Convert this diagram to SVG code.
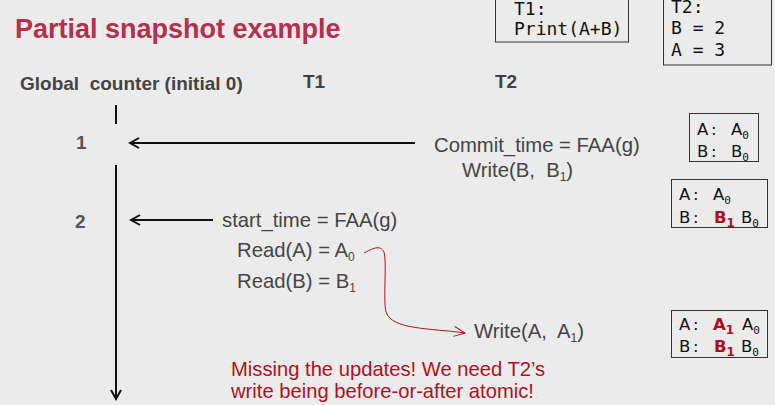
<svg xmlns="http://www.w3.org/2000/svg" width="775" height="405" viewBox="0 0 775 405">
  <style>
    .title { font-family: "Liberation Sans", Arial, sans-serif; font-weight: bold; font-size: 27px; fill: #b4304c; }
    .head { font-family: "Liberation Sans", Arial, sans-serif; font-weight: bold; font-size: 19px; fill: #444; }
    .tick { font-family: "Liberation Sans", Arial, sans-serif; font-weight: bold; font-size: 19px; fill: #555; }
    .op { font-family: "Liberation Sans", Arial, sans-serif; font-size: 20.3px; fill: #444; }
    .warn { font-family: "Liberation Sans", Arial, sans-serif; font-size: 20.2px; fill: #b0101e; }
    .code { font-family: "DejaVu Sans Mono", "Liberation Mono", monospace; font-size: 18px; fill: #111; }
    .ver { font-family: "DejaVu Sans", "Liberation Sans", sans-serif; font-size: 16.5px; fill: #111; }
    .new { fill: #b0101e; font-weight: bold; }
    .sub { font-size: 12px; }
    .vsub { font-family: "DejaVu Sans Mono", monospace; font-size: 11px; }
    .box { fill: none; stroke: #333; stroke-width: 1; }
    .line { stroke: #111; stroke-width: 2; fill: none; }
    .curve { stroke: #b0101e; stroke-width: 1; fill: none; }
  </style>
  <defs>
    <marker id="open" markerWidth="12" markerHeight="12" refX="10" refY="6" orient="auto" markerUnits="userSpaceOnUse">
      <path d="M1,1 L10,6 L1,11" fill="none" stroke="#111" stroke-width="2"/>
    </marker>
    <marker id="openRed" markerWidth="14" markerHeight="12" refX="12" refY="6" orient="auto" markerUnits="userSpaceOnUse">
      <path d="M1,1 L12,6 L1,11" fill="none" stroke="#b0101e" stroke-width="1"/>
    </marker>
  </defs>

  <rect width="775" height="405" fill="#ebebeb"/>

  <text class="title" x="15" y="38">Partial snapshot example</text>

  <g id="header">
    <text class="head" x="20" y="90" xml:space="preserve">Global  counter (initial 0)</text>
    <text class="head" x="303" y="88">T1</text>
    <text class="head" x="495" y="88">T2</text>
  </g>

  <g id="t1-box">
    <rect class="box" x="495.5" y="-2" width="133" height="44"/>
    <text class="code" x="514" y="15">T1:</text>
    <text class="code" x="514" y="35">Print(A+B)</text>
  </g>

  <g id="t2-box">
    <rect class="box" x="663.5" y="-2" width="108" height="67"/>
    <text class="code" x="671" y="13">T2:</text>
    <text class="code" x="671" y="34" xml:space="preserve">B = 2</text>
    <text class="code" x="671" y="56" xml:space="preserve">A = 3</text>
  </g>

  <g id="timeline">
    <line class="line" x1="116" y1="105" x2="116" y2="124"/>
    <line class="line" x1="116" y1="165" x2="116" y2="399" marker-end="url(#open)"/>
    <text class="tick" x="76" y="149">1</text>
    <text class="tick" x="75" y="228">2</text>
  </g>

  <g id="connectors">
    <line class="line" x1="415" y1="143" x2="130" y2="143" marker-end="url(#open)"/>
    <line class="line" x1="213" y1="220" x2="131" y2="220" marker-end="url(#open)"/>
    <path class="curve" d="M364,253 C372,249 380,244 384,252 C387,262 383,300 386,312 C392,330 430,328 465,333" marker-end="url(#openRed)"/>
  </g>

  <g id="t2-ops">
    <text class="op" x="434" y="152">Commit_time = FAA(g)</text>
    <text class="op" x="462" y="177" xml:space="preserve">Write(B,  B<tspan class="sub" dy="4">1</tspan><tspan dy="-4">)</tspan></text>
    <text class="op" x="474" y="338" xml:space="preserve">Write(A,  A<tspan class="sub" dy="4">1</tspan><tspan dy="-4">)</tspan></text>
  </g>

  <g id="t1-ops">
    <text class="op" x="222" y="227">start_time = FAA(g)</text>
    <text class="op" x="237" y="257">Read(A) = A<tspan class="sub" dy="4">0</tspan></text>
    <text class="op" x="237" y="288">Read(B) = B<tspan class="sub" dy="4">1</tspan></text>
  </g>

  <g id="note">
    <text class="warn" x="231" y="376">Missing the updates! We need T2’s</text>
    <text class="warn" x="231" y="398">write being before-or-after atomic!</text>
  </g>

  <g id="state-1">
    <rect class="box" x="689.5" y="113.5" width="69" height="48"/>
    <text class="ver" x="697" y="135">A<tspan x="711">:</tspan><tspan x="731">A</tspan><tspan class="vsub" dy="4">0</tspan></text>
    <text class="ver" x="697" y="157">B<tspan x="711">:</tspan><tspan x="731">B</tspan><tspan class="vsub" dy="4">0</tspan></text>
  </g>

  <g id="state-2">
    <rect class="box" x="671.5" y="179.5" width="96" height="48"/>
    <text class="ver" x="679" y="200">A<tspan x="693">:</tspan><tspan x="713">A</tspan><tspan class="vsub" dy="4">0</tspan></text>
    <text class="ver" x="679" y="223">B<tspan x="693">:</tspan><tspan class="new" x="714">B</tspan><tspan class="new sub" dy="4">1</tspan><tspan x="741" dy="-4">B</tspan><tspan class="vsub" dy="4">0</tspan></text>
  </g>

  <g id="state-3">
    <rect class="box" x="671.5" y="310.5" width="96" height="47"/>
    <text class="ver" x="679" y="330">A<tspan x="693">:</tspan><tspan class="new" x="713">A</tspan><tspan class="new sub" dy="4">1</tspan><tspan x="742" dy="-4">A</tspan><tspan class="vsub" dy="4">0</tspan></text>
    <text class="ver" x="679" y="352">B<tspan x="693">:</tspan><tspan class="new" x="714">B</tspan><tspan class="new sub" dy="4">1</tspan><tspan x="741" dy="-4">B</tspan><tspan class="vsub" dy="4">0</tspan></text>
  </g>
</svg>
